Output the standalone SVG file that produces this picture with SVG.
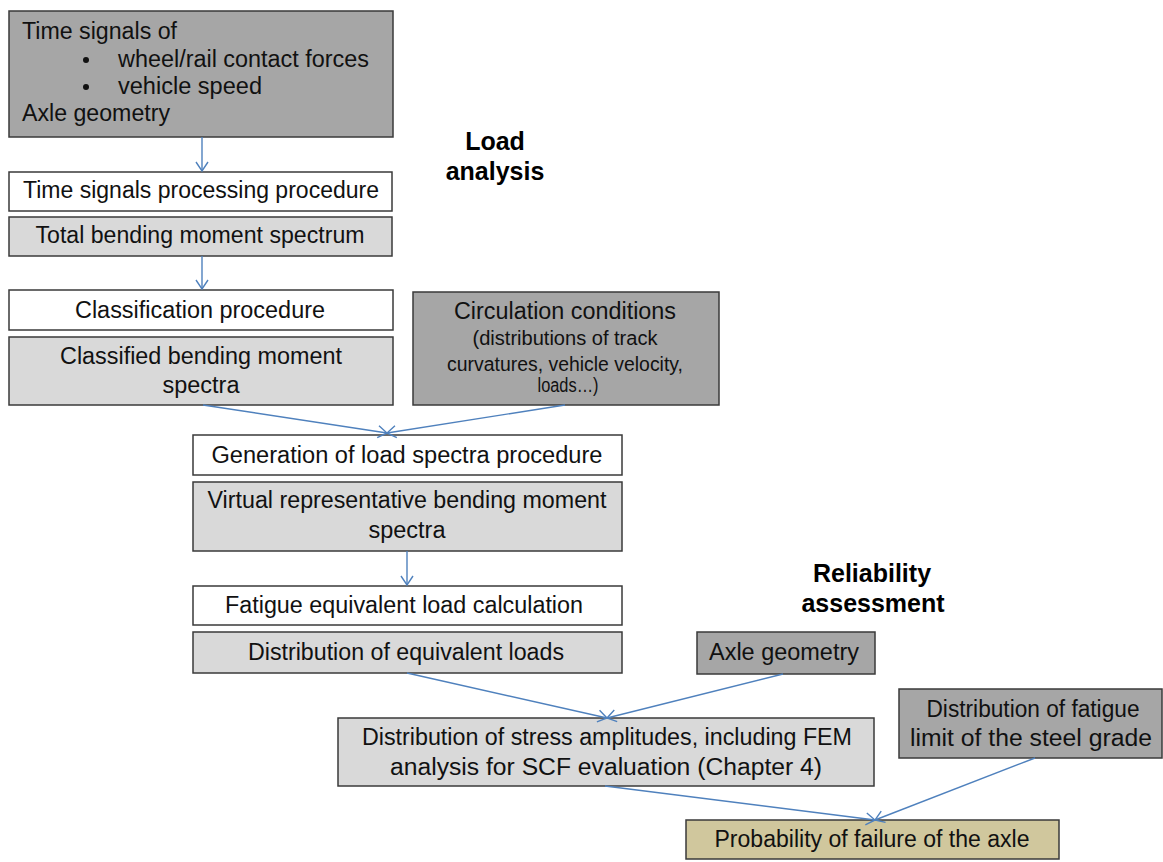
<svg xmlns="http://www.w3.org/2000/svg" width="1163" height="862" viewBox="0 0 1163 862">
<style>
.box{stroke:#3a3a3a;stroke-width:1.5}
.dark{fill:#a6a6a6}
.light{fill:#d9d9d9}
.white{fill:#ffffff}
.tan{fill:#d0c79d}
text{font-family:"Liberation Sans",Arial,sans-serif;font-size:23px;fill:#111}
.c{text-anchor:middle}
.sm{font-size:20px}
.h{font-weight:bold;font-size:25px;text-anchor:middle;fill:#000}
.con{stroke:#4f81bd;stroke-width:1.4;fill:none}
</style>
<defs>
<marker id="ah" markerUnits="userSpaceOnUse" markerWidth="20" markerHeight="20" refX="0" refY="0" viewBox="-12 -10 14 20" orient="auto" overflow="visible">
<path d="M -9 -6 L 0 0 L -9 6" fill="none" stroke="#4f81bd" stroke-width="1.4"/>
</marker>
</defs>
<rect width="1163" height="862" fill="#ffffff"/>

<g id="n-time-signals">
<rect class="box dark" x="9" y="11" width="384" height="126"/>
<text x="22" y="39" textLength="155" lengthAdjust="spacingAndGlyphs">Time signals of</text>
<circle cx="86" cy="60" r="3" fill="#111"/>
<text x="118" y="67" textLength="251" lengthAdjust="spacingAndGlyphs">wheel/rail contact forces</text>
<circle cx="86" cy="87" r="3" fill="#111"/>
<text x="118" y="94" textLength="144" lengthAdjust="spacingAndGlyphs">vehicle speed</text>
<text x="22" y="121" textLength="148" lengthAdjust="spacingAndGlyphs">Axle geometry</text>
</g>

<g id="n-processing">
<rect class="box white" x="9" y="172" width="383" height="39"/>
<text class="c" x="201" y="198" textLength="356" lengthAdjust="spacingAndGlyphs">Time signals processing procedure</text>
</g>

<g id="n-total">
<rect class="box light" x="9" y="217" width="383" height="39"/>
<text class="c" x="200" y="243" textLength="329" lengthAdjust="spacingAndGlyphs">Total bending moment spectrum</text>
</g>

<g id="n-classification">
<rect class="box white" x="9" y="290" width="384" height="40"/>
<text class="c" x="200" y="318" textLength="250" lengthAdjust="spacingAndGlyphs">Classification procedure</text>
</g>

<g id="n-classified">
<rect class="box light" x="9" y="337" width="384" height="68"/>
<text class="c" x="201" y="364" textLength="282" lengthAdjust="spacingAndGlyphs">Classified bending moment</text>
<text class="c" x="201" y="393" textLength="77" lengthAdjust="spacingAndGlyphs">spectra</text>
</g>

<g id="n-circulation">
<rect class="box dark" x="413" y="292" width="306" height="113"/>
<text class="c" x="565" y="319" textLength="222" lengthAdjust="spacingAndGlyphs">Circulation conditions</text>
<text class="c sm" x="565" y="345" textLength="185" lengthAdjust="spacingAndGlyphs">(distributions of track</text>
<text class="c sm" x="565" y="371" textLength="236" lengthAdjust="spacingAndGlyphs">curvatures, vehicle velocity,</text>
<text class="c sm" x="568" y="392" textLength="61" lengthAdjust="spacingAndGlyphs">loads…)</text>
</g>

<g id="n-load-heading">
<text class="h" x="495" y="150">Load</text>
<text class="h" x="495" y="180">analysis</text>
</g>

<g id="n-generation">
<rect class="box white" x="193" y="435" width="429" height="40"/>
<text class="c" x="407" y="463" textLength="391" lengthAdjust="spacingAndGlyphs">Generation of load spectra  procedure</text>
</g>

<g id="n-virtual">
<rect class="box light" x="193" y="482" width="429" height="69"/>
<text class="c" x="407" y="508" textLength="399" lengthAdjust="spacingAndGlyphs">Virtual representative bending moment</text>
<text class="c" x="407" y="538" textLength="77" lengthAdjust="spacingAndGlyphs">spectra</text>
</g>

<g id="n-fatigue-eq">
<rect class="box white" x="193" y="586" width="429" height="39"/>
<text class="c" x="404" y="613" textLength="358" lengthAdjust="spacingAndGlyphs">Fatigue equivalent load calculation</text>
</g>

<g id="n-dist-eq">
<rect class="box light" x="193" y="632" width="429" height="41"/>
<text class="c" x="406" y="660" textLength="316" lengthAdjust="spacingAndGlyphs">Distribution of equivalent loads</text>
</g>

<g id="n-rel-heading">
<text class="h" x="872" y="582">Reliability</text>
<text class="h" x="873" y="612">assessment</text>
</g>

<g id="n-axle">
<rect class="box dark" x="697" y="632" width="178" height="42"/>
<text class="c" x="784" y="660" textLength="150" lengthAdjust="spacingAndGlyphs">Axle geometry</text>
</g>

<g id="n-stress">
<rect class="box light" x="338" y="718" width="536" height="68"/>
<text class="c" x="607" y="745" textLength="490" lengthAdjust="spacingAndGlyphs">Distribution of stress amplitudes, including FEM</text>
<text class="c" x="606" y="775" textLength="432" lengthAdjust="spacingAndGlyphs">analysis for SCF evaluation (Chapter 4)</text>
</g>

<g id="n-fatigue-limit">
<rect class="box dark" x="899" y="689" width="263" height="69"/>
<text class="c" x="1033" y="717" textLength="213" lengthAdjust="spacingAndGlyphs">Distribution of fatigue</text>
<text class="c" x="1031" y="746" textLength="242" lengthAdjust="spacingAndGlyphs">limit of the steel grade</text>
</g>

<g id="n-probability">
<rect class="box tan" x="686" y="820" width="373" height="39"/>
<text class="c" x="872" y="847" textLength="315" lengthAdjust="spacingAndGlyphs">Probability of failure of the axle</text>
</g>

<g id="connectors">
<line class="con" x1="202" y1="137" x2="202" y2="171" marker-end="url(#ah)"/>
<line class="con" x1="202" y1="256" x2="202" y2="289" marker-end="url(#ah)"/>
<line class="con" x1="203" y1="405" x2="387" y2="433" marker-end="url(#ah)"/>
<line class="con" x1="565" y1="405" x2="387" y2="433" marker-end="url(#ah)"/>
<line class="con" x1="407" y1="551" x2="407" y2="585" marker-end="url(#ah)"/>
<line class="con" x1="407" y1="673" x2="607" y2="718" marker-end="url(#ah)"/>
<line class="con" x1="783" y1="674" x2="607" y2="718" marker-end="url(#ah)"/>
<line class="con" x1="605" y1="786" x2="875" y2="820" marker-end="url(#ah)"/>
<line class="con" x1="1035" y1="758" x2="875" y2="820" marker-end="url(#ah)"/>
</g>
</svg>
